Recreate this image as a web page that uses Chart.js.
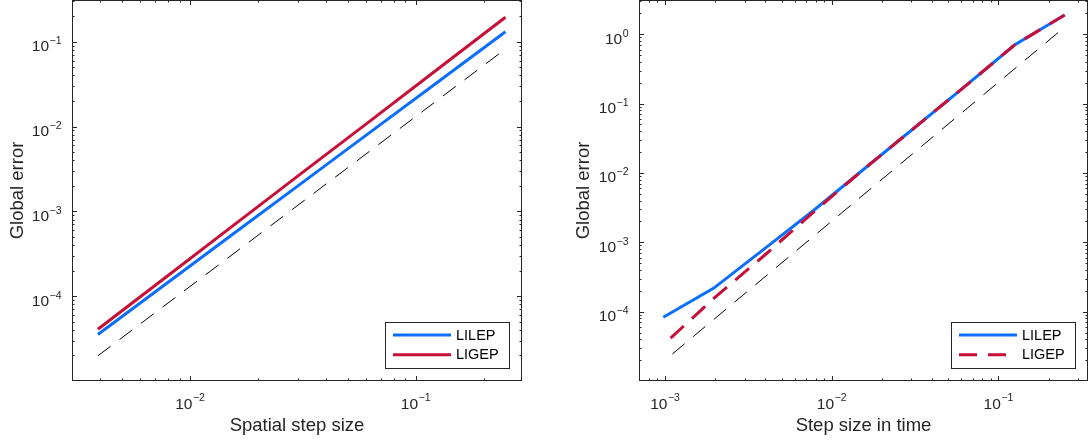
<!DOCTYPE html>
<html>
<head>
<meta charset="utf-8">
<script src="https://cdn.jsdelivr.net/npm/chart.js@4.4.1/dist/chart.umd.min.js"></script>
<style>
  html, body { margin: 0; padding: 0; background: #fff; }
  #wrap { position: relative; width: 1092px; height: 443px; }
  .panel { position: absolute; top: 0; width: 546px; height: 443px; }
</style>
</head>
<body>
<div id="wrap">
  <div class="panel" style="left:0"><canvas id="spaceChart"></canvas></div>
  <div class="panel" style="left:546px"><canvas id="timeChart"></canvas></div>
</div>
<script>
// left panel: spatial refinement
const spaceSteps = [1/256, 1/128, 1/64, 1/32, 1/16, 1/8, 1/4];
const spaceLILEP = [3.53e-5, 1.39e-4, 5.47e-4, 2.15e-3, 8.47e-3, 3.33e-2, 0.131];
const spaceLIGEP = [4.08e-5, 1.67e-4, 6.87e-4, 2.82e-3, 1.15e-2, 4.73e-2, 0.194];
const spaceRefSteps = [1/256, 1/4];
const spaceRef = [1.98e-5, 0.082];

// right panel: time refinement
const timeSteps = [1/1024, 1/512, 1/256, 1/128, 1/64, 1/32, 1/16, 1/8, 1/4];
const timeLILEP = [8.3e-5, 2.17e-4, 7.9e-4, 2.9e-3, 1.14e-2, 4.45e-2, 0.174, 0.70, 1.9];
const timeLIGEPSteps = [1.08e-3, 1/512, 1/256, 1/128, 1/64, 1/32, 1/16, 1/8, 1/4];
const timeLIGEP = [4.14e-5, 1.54e-4, 6.35e-4, 2.75e-3, 1.14e-2, 4.45e-2, 0.174, 0.70, 1.9];
const timeRefSteps = [1.106e-3, 0.249];
const timeRef = [2.45e-5, 1.26];

const seriesNames = ["LILEP", "LIGEP"];
const axisColor = "#262626";
const blue = "#0A6EFF";
const red = "#C80F37";
const fontName = '"Liberation Sans", Arial, sans-serif';

Chart.defaults.font.family = fontName;
Chart.defaults.color = axisColor;

function pts(xs, ys) {
  return xs.map((x, i) => ({x: x, y: ys[i]}));
}

// all 1..9 x 10^k positions inside the range
function logTicks(scale) {
  const out = [];
  const e0 = Math.floor(Math.log10(scale.min)), e1 = Math.ceil(Math.log10(scale.max));
  for (let e = e0; e <= e1; e++) {
    for (let m = 1; m <= 9; m++) {
      const v = m * Math.pow(10, e);
      if (v > scale.min * 1.001 && v < scale.max * 0.999) out.push({value: v, major: m === 1, exp: e});
    }
  }
  scale.ticks = out;
}

function drawPow(ctx, exp, x, y, align, raise) {
  // "10" with a raised exponent; x is centre (bottom axis) or right edge (left axis)
  const base = "10";
  const supTxt = exp < 0 ? "\u2212" + Math.abs(exp) : String(exp);
  ctx.font = "15.5px " + fontName;
  const wb = ctx.measureText(base).width;
  ctx.font = "10.5px " + fontName;
  const ws = ctx.measureText(supTxt).width;
  const w = wb + ws + 0.5;
  const x0 = align === "center" ? x - w / 2 : x - w;
  ctx.textAlign = "left";
  ctx.textBaseline = "alphabetic";
  ctx.font = "15.5px " + fontName;
  ctx.fillText(base, x0, y);
  ctx.font = "10.5px " + fontName;
  ctx.fillText(supTxt, x0 + wb + 0.5, y - raise);
}

const framePlugin = {
  id: "frame",
  afterDraw(chart) {
    const ctx = chart.ctx;
    const {left, right, top, bottom} = chart.chartArea;
    const xs = chart.scales.x, ys = chart.scales.y;
    ctx.save();
    ctx.strokeStyle = axisColor;
    ctx.fillStyle = axisColor;
    ctx.lineWidth = 1;
    ctx.setLineDash([]);
    ctx.strokeRect(left + 0.5, top + 0.5, right - left - 1, bottom - top - 1);

    ctx.beginPath();
    xs.ticks.forEach(t => {
      const p = Math.round(xs.getPixelForValue(t.value)) + 0.5;
      const len = t.major ? 5 : 2.5;
      ctx.moveTo(p, bottom); ctx.lineTo(p, bottom - len);
      ctx.moveTo(p, top); ctx.lineTo(p, top + len);
    });
    ys.ticks.forEach(t => {
      const p = Math.round(ys.getPixelForValue(t.value)) + 0.5;
      const len = t.major ? 5 : 2.5;
      ctx.moveTo(left, p); ctx.lineTo(left + len, p);
      ctx.moveTo(right, p); ctx.lineTo(right - len, p);
    });
    ctx.stroke();

    xs.ticks.filter(t => t.major).forEach(t => {
      drawPow(ctx, t.exp, xs.getPixelForValue(t.value), bottom + 27.8, "center", 8);
    });
    ys.ticks.filter(t => t.major).forEach(t => {
      drawPow(ctx, t.exp, left - 10.5, ys.getPixelForValue(t.value) + 9.5, "right", 7);
    });

    // legend box in the lower right corner
    const items = chart.data.datasets.filter(d => d.label);
    const w = 124, h = 46;
    const x0 = Math.round(right - 13 - w), y0 = Math.round(bottom - 13.5 - h);
    ctx.fillStyle = "#fff";
    ctx.fillRect(x0, y0, w, h);
    ctx.strokeStyle = axisColor;
    ctx.strokeRect(x0 + 0.5, y0 + 0.5, w, h);
    items.forEach((d, i) => {
      const y = y0 + 13 + i * 19.7;
      ctx.beginPath();
      ctx.setLineDash(d.borderDash || []);
      ctx.strokeStyle = d.borderColor;
      ctx.lineWidth = d.borderWidth;
      ctx.moveTo(x0 + 8, y);
      ctx.lineTo(x0 + 66, y);
      ctx.stroke();
      ctx.setLineDash([]);
      ctx.fillStyle = "#000";
      ctx.font = "14.5px " + fontName;
      ctx.textAlign = "left";
      ctx.textBaseline = "middle";
      ctx.fillText(d.label, x0 + 71, y + 0.5);
    });
    ctx.restore();
  }
};

function makeChart(id, datasets, xTitle, xRange, yRange, yWidth, yTitlePad, padRight) {
  return new Chart(document.getElementById(id), {
    type: "line",
    data: {datasets: datasets},
    options: {
      animation: false,
      responsive: true,
      maintainAspectRatio: false,
      devicePixelRatio: 1,
      layout: {padding: {left: 0, top: 0, right: padRight, bottom: 0}},
      plugins: {legend: {display: false}, tooltip: {enabled: false}},
      elements: {point: {radius: 0}, line: {tension: 0, borderCapStyle: "butt"}},
      scales: {
        x: {
          type: "logarithmic", min: xRange[0], max: xRange[1], bounds: "data",
          grid: {display: false}, border: {display: false},
          ticks: {display: false, autoSkip: false},
          afterBuildTicks: logTicks,
          afterFit: s => { s.height = 62; },
          title: {display: true, text: xTitle, color: axisColor,
                  font: {size: 18.5}, padding: {top: 0, bottom: 6.2}}
        },
        y: {
          type: "logarithmic", min: yRange[0], max: yRange[1], bounds: "data",
          grid: {display: false}, border: {display: false},
          ticks: {display: false, autoSkip: false},
          afterBuildTicks: logTicks,
          afterFit: s => { s.width = yWidth; },
          title: {display: true, text: "Global error", color: axisColor,
                  font: {size: 18.5}, padding: {top: yTitlePad, bottom: 0}}
        }
      }
    },
    plugins: [framePlugin]
  });
}

makeChart("spaceChart", [
  {label: seriesNames[0], data: pts(spaceSteps, spaceLILEP), borderColor: blue, borderWidth: 3, order: 2},
  {label: seriesNames[1], data: pts(spaceSteps, spaceLIGEP), borderColor: red, borderWidth: 3, order: 1},
  {data: pts(spaceRefSteps, spaceRef), borderColor: "#000", borderWidth: 1, borderDash: [16, 11], order: 3}
], "Spatial step size", [3.0e-3, 0.296], [1e-5, 0.31], 72, 6.5, 24);

makeChart("timeChart", [
  {label: seriesNames[0], data: pts(timeSteps, timeLILEP), borderColor: blue, borderWidth: 3, order: 2},
  {label: seriesNames[1], data: pts(timeLIGEPSteps, timeLIGEP), borderColor: red, borderWidth: 3, borderDash: [18, 11], order: 1},
  {data: pts(timeRefSteps, timeRef), borderColor: "#000", borderWidth: 1, borderDash: [16, 11], order: 3}
], "Step size in time", [6.98e-4, 0.345], [1e-5, 3.12], 93, 27.1, 4);
</script>
</body>
</html>
